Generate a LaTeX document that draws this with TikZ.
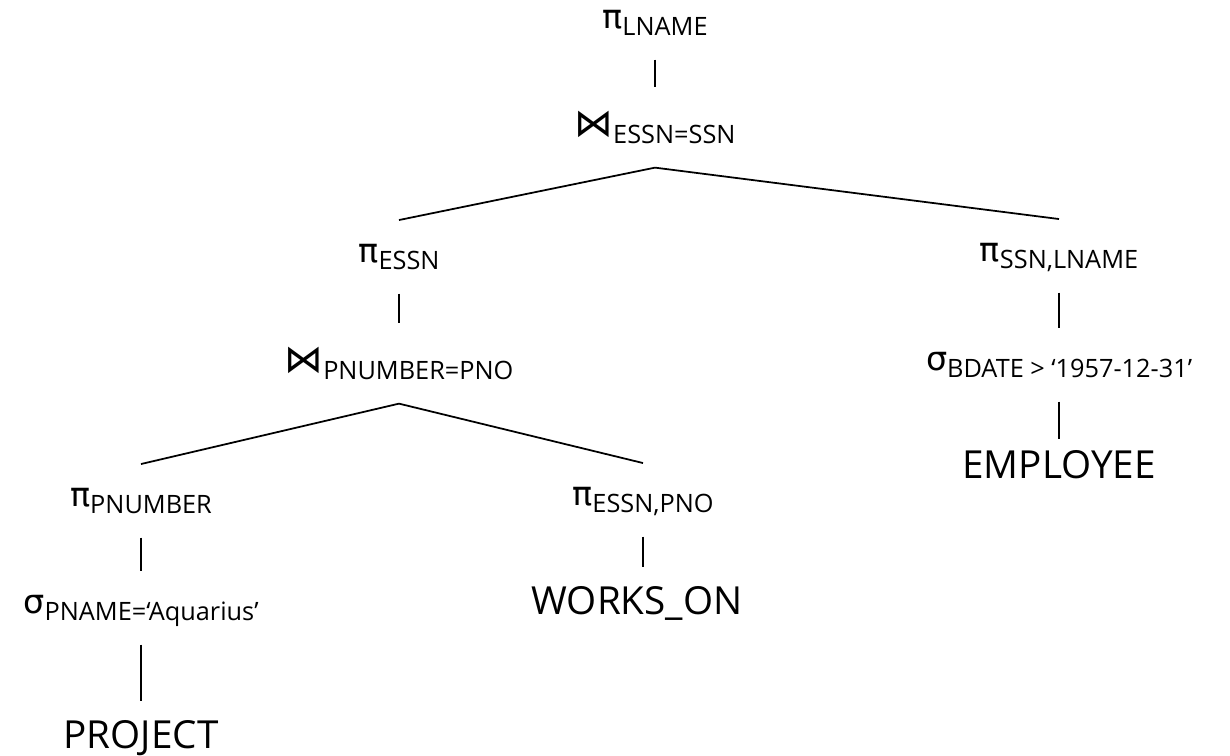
\documentclass[tikz,border=0pt]{standalone}
\usepackage{fontspec}
\setmainfont{Open Sans}
\newfontfamily\symfont{DejaVu Sans}
\usetikzlibrary{positioning}

% operator with a lowered subscript
\newcommand{\relop}[2]{{\symfont\fontsize{19}{19}\selectfont #1}\raisebox{-4.5pt}[0pt][4.5pt]{\fontsize{14.4}{14.4}\selectfont #2}}
\newcommand{\joinop}{{\fontsize{22}{22}\selectfont ⋈}}

\begin{document}
\begin{tikzpicture}[
  x=0.02cm, y=-0.02cm,
  op/.style={inner sep=0pt, outer xsep=0pt, outer ysep=13.5pt, anchor=base},
  relation/.style={inner sep=0pt, outer xsep=0pt, outer ysep=11pt, anchor=base, font=\fontsize{22}{22}\selectfont},
  edge/.style={line width=1pt}
  ]
  \useasboundingbox (0,0) rectangle (1230,755);

  % root and top join
  \node[op] (plname) at (655,28) {\relop{π}{LNAME}};
  \node[op] (join1) at (655,136) {\relop{\joinop}{ESSN=SSN}};

  % left branch
  \node[op] (pessn) at (399,262) {\relop{π}{ESSN}};
  \node[op] (join2) at (399,372) {\relop{\joinop}{PNUMBER=PNO}};
  \node[op] (ppnum) at (141,506) {\relop{π}{PNUMBER}};
  \node[op] (spname) at (141,613) {\relop{σ}{PNAME=‘Aquarius’}};
  \node[relation] (project) at (141,748) {PROJECT};
  \node[op] (pepno) at (643,505) {\relop{π}{ESSN,PNO}};
  \node[relation] (works) at (637,614) {WORKS\_ON};

  % right branch
  \node[op] (psslname) at (1059,261) {\relop{π}{SSN,LNAME}};
  \node[op] (sbdate) at (1059,370) {\relop{σ}{BDATE > ‘1957-12-31’}};
  \node[relation] (employee) at (1059,478) {EMPLOYEE};

  % tree edges
  \draw[edge] (plname.south) -- (plname.south |- join1.north);
  \draw[edge] (join1.south) -- (pessn.north);
  \draw[edge] (join1.south) -- (psslname.north);
  \draw[edge] (pessn.south) -- (pessn.south |- join2.north);
  \draw[edge] (join2.south) -- (ppnum.north);
  \draw[edge] (join2.south) -- (pepno.north);
  \draw[edge] (ppnum.south) -- (ppnum.south |- spname.north);
  \draw[edge] (spname.south) -- (spname.south |- project.north);
  \draw[edge] (pepno.south) -- (pepno.south |- works.north);
  \draw[edge] (psslname.south) -- (psslname.south |- sbdate.north);
  \draw[edge, shorten >=-5pt] (sbdate.south) -- (sbdate.south |- employee.north);

\end{tikzpicture}
\end{document}
